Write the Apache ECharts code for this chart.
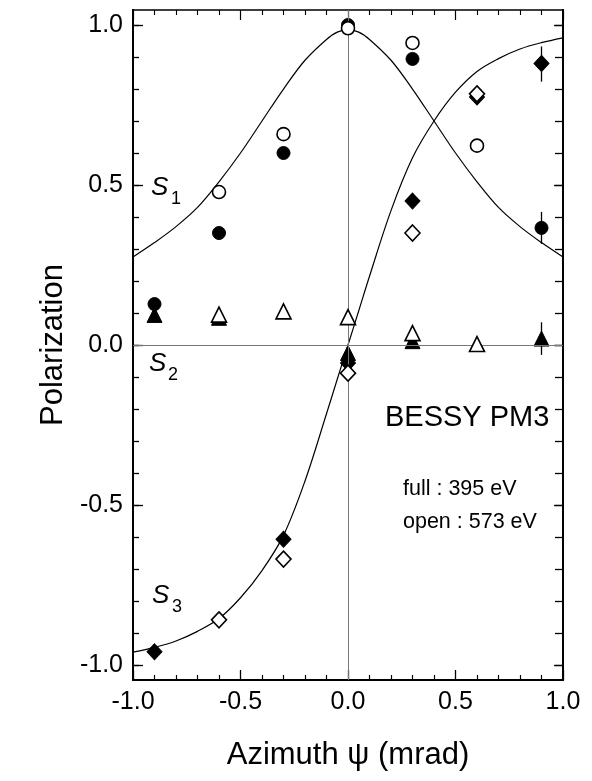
<!DOCTYPE html>
<html>
<head>
<meta charset="utf-8">
<script src="https://cdn.jsdelivr.net/npm/echarts@6/dist/echarts.min.js"></script>
<style>
html,body{margin:0;padding:0;background:#fff;}
#chart{width:592px;height:781px;}
</style>
</head>
<body>
<div id="chart"></div>
<script>
// ---- data ----
var psi = [-0.9, -0.6, -0.3, 0.0, 0.3, 0.6, 0.9];
var s1Full = [0.128, 0.35, 0.60, 1.00, 0.894, null, 0.366];
var s1Open = [null, 0.478, 0.659, 0.99, 0.944, 0.623, null];
var s2Full = [0.094, 0.085, null, -0.025, 0.012, null, 0.02];
var s2Open = [null, 0.095, 0.105, 0.087, 0.037, 0.003, null];
var s3Full = [-0.959, null, -0.607, -0.056, 0.45, 0.775, 0.88];
var s3Open = [null, -0.859, -0.669, -0.088, 0.35, 0.785, null];
// error bars: [psi, low, high]
var errFull = [[0.9, 0.316, 0.416], [0.9, -0.031, 0.071], [0.9, 0.823, 0.933]];

var curveX = [-1.0, -0.9, -0.8, -0.7, -0.6, -0.5, -0.4, -0.3, -0.2, -0.1, -0.05, 0.0, 0.05, 0.1, 0.2, 0.3, 0.4, 0.5, 0.6, 0.7, 0.8, 0.9, 1.0];
var curveS1 = [0.275, 0.32, 0.37, 0.43, 0.51, 0.60, 0.70, 0.80, 0.89, 0.955, 0.978, 0.985, 0.978, 0.955, 0.89, 0.80, 0.70, 0.60, 0.51, 0.43, 0.37, 0.32, 0.275];
var curveS3 = [-0.96, -0.945, -0.925, -0.895, -0.855, -0.79, -0.705, -0.595, -0.425, -0.215, -0.107, 0.0, 0.107, 0.215, 0.42, 0.585, 0.70, 0.79, 0.855, 0.895, 0.925, 0.945, 0.96];

var yMajor = [-1.0, -0.5, 0.0, 0.5, 1.0];
var yMinor = [-1.0, -0.9, -0.8, -0.7, -0.6, -0.5, -0.4, -0.3, -0.2, -0.1, 0.0, 0.1, 0.2, 0.3, 0.4, 0.5, 0.6, 0.7, 0.8, 0.9, 1.0];

function pairs(xs, ys) {
  var out = [];
  for (var i = 0; i < xs.length; i++) if (ys[i] !== null) out.push([xs[i], ys[i]]);
  return out;
}

var FONT = 'Liberation Sans, Arial, Helvetica, sans-serif';
var chart = echarts.init(document.getElementById('chart'), null, {renderer: 'canvas'});

var yMin = -1.047, yMax = 1.047;
function yAx(pos, vals, len, labels) {
  return {
    type: 'value', min: yMin, max: yMax, position: pos,
    axisLine: {show: true, onZero: false, lineStyle: {color: '#000', width: 2}},
    axisTick: {show: true, inside: true, length: len, customValues: vals, lineStyle: {color: '#000', width: 1.3}},
    axisLabel: labels ? {show: true, customValues: yMajor, margin: 10, fontSize: 25, color: '#000', fontFamily: FONT,
      formatter: function (v) { return v.toFixed(1); }} : {show: false},
    splitLine: {show: false},
    name: labels ? 'Polarization' : '',
    nameLocation: 'middle', nameGap: 60,
    nameTextStyle: {fontSize: 31, color: '#000', fontFamily: FONT}
  };
}

var openStyle = {color: '#fff', borderColor: '#000', borderWidth: 1.6, opacity: 1};
var fullStyle = {color: '#000', borderColor: '#000', borderWidth: 1, opacity: 1};

var option = {
  backgroundColor: '#fff',
  animation: false,
  grid: {left: 133, right: 29, top: 10, bottom: 101, containLabel: false},
  xAxis: [{
    type: 'value', min: -1, max: 1, interval: 0.5, position: 'bottom',
    axisLine: {show: true, onZero: false, lineStyle: {color: '#000', width: 2}},
    axisTick: {show: true, inside: true, length: 10, lineStyle: {color: '#000', width: 1.3}},
    minorTick: {show: true, splitNumber: 5, length: 5, lineStyle: {color: '#000', width: 1.2}},
    axisLabel: {margin: 10, fontSize: 25, color: '#000', fontFamily: FONT,
      formatter: function (v) { return v.toFixed(1); }},
    splitLine: {show: false}, minorSplitLine: {show: false},
    name: 'Azimuth \u03C8 (mrad)', nameLocation: 'middle', nameGap: 60,
    nameTextStyle: {fontSize: 31, color: '#000', fontFamily: FONT}
  }, {
    type: 'value', min: -1, max: 1, interval: 0.5, position: 'top',
    axisLine: {show: true, onZero: false, lineStyle: {color: '#000', width: 1.5}},
    axisTick: {show: true, inside: true, length: 10, lineStyle: {color: '#000', width: 1.2}},
    minorTick: {show: true, splitNumber: 5, length: 5, lineStyle: {color: '#000', width: 1.1}},
    axisLabel: {show: false}, splitLine: {show: false}
  }],
  yAxis: [
    yAx('left', yMajor, 10, true),
    yAx('left', yMinor, 6, false),
    yAx('right', yMajor, 9, false),
    yAx('right', yMinor, 8, false)
  ],
  graphic: [
    {type: 'text', left: 151, top: 175, style: {text: 'S', font: 'italic 26px ' + FONT, fill: '#000'}},
    {type: 'text', left: 171, top: 190, style: {text: '1', font: '18px ' + FONT, fill: '#000'}},
    {type: 'text', left: 149, top: 351, style: {text: 'S', font: 'italic 26px ' + FONT, fill: '#000'}},
    {type: 'text', left: 168, top: 366, style: {text: '2', font: '18px ' + FONT, fill: '#000'}},
    {type: 'text', left: 152, top: 583, style: {text: 'S', font: 'italic 26px ' + FONT, fill: '#000'}},
    {type: 'text', left: 172, top: 598, style: {text: '3', font: '18px ' + FONT, fill: '#000'}},
    {type: 'text', left: 385, top: 403, style: {text: 'BESSY PM3', font: '29px ' + FONT, fill: '#000'}},
    {type: 'text', left: 403, top: 478, style: {text: 'full : 395 eV', font: '21.5px ' + FONT, fill: '#000'}},
    {type: 'text', left: 403, top: 511, style: {text: 'open : 573 eV', font: '21.5px ' + FONT, fill: '#000'}}
  ],
  series: [
    {
      type: 'line', name: 'S1 theory', data: pairs(curveX, curveS1), smooth: 0.35, showSymbol: false, symbol: 'none',
      lineStyle: {color: '#000', width: 1.2}, z: 2, silent: true,
      markLine: {
        silent: true, symbol: 'none', label: {show: false},
        lineStyle: {color: '#777', width: 1, type: 'solid'},
        data: [{xAxis: 0}, {yAxis: 0}]
      }
    },
    {type: 'line', name: 'S3 theory', data: pairs(curveX, curveS3), smooth: 0.35, showSymbol: false, symbol: 'none',
      lineStyle: {color: '#000', width: 1.2}, z: 2, silent: true},
    {
      type: 'custom', name: 'errors', z: 3, silent: true,
      data: errFull,
      renderItem: function (params, api) {
        var p1 = api.coord([api.value(0), api.value(1)]);
        var p2 = api.coord([api.value(0), api.value(2)]);
        return {type: 'line', shape: {x1: p1[0], y1: p1[1], x2: p2[0], y2: p2[1]},
          style: {stroke: '#000', lineWidth: 1.3}};
      }
    },
    {type: 'scatter', name: 'S1 full', data: pairs(psi, s1Full), symbol: 'circle', symbolSize: 13, itemStyle: fullStyle, z: 4},
    {type: 'scatter', name: 'S2 full', data: pairs(psi, s2Full), symbol: 'triangle', symbolSize: 15, itemStyle: fullStyle, z: 4},
    {type: 'scatter', name: 'S3 full', data: pairs(psi, s3Full), symbol: 'diamond', symbolSize: [15, 16], itemStyle: fullStyle, z: 4},
    {type: 'scatter', name: 'S1 open', data: pairs(psi, s1Open), symbol: 'circle', symbolSize: 13, itemStyle: openStyle, z: 5},
    {type: 'scatter', name: 'S2 open', data: pairs(psi, s2Open), symbol: 'triangle', symbolSize: 15, itemStyle: openStyle, z: 5},
    {type: 'scatter', name: 'S3 open', data: pairs(psi, s3Open), symbol: 'diamond', symbolSize: [15, 16], itemStyle: openStyle, z: 5}
  ]
};
chart.setOption(option);
</script>
</body>
</html>
